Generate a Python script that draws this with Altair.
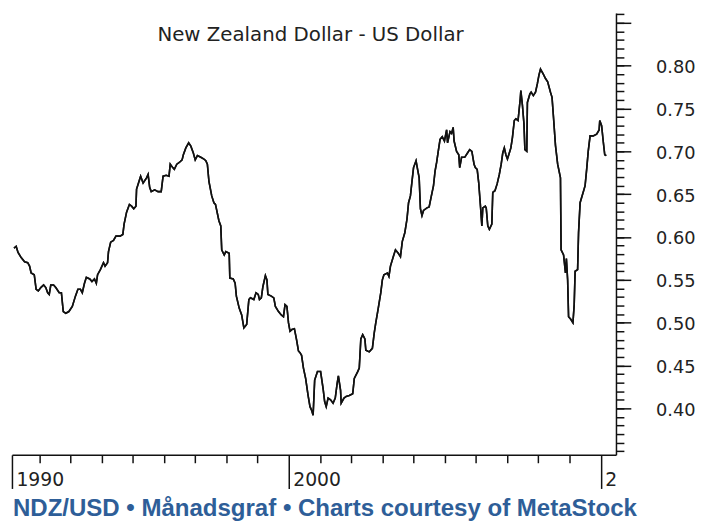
import altair as alt
import pandas as pd

# ---- data ----
years = [
    1991.19, 1991.26, 1991.32, 1991.42, 1991.53, 1991.63, 1991.69, 1991.74, 1991.84, 1991.90,
    1991.97, 1992.05, 1992.14, 1992.21, 1992.27, 1992.32, 1992.37, 1992.46, 1992.53, 1992.64,
    1992.71, 1992.77, 1992.85, 1992.95, 1993.06, 1993.16, 1993.24, 1993.32, 1993.38, 1993.45,
    1993.51, 1993.62, 1993.69, 1993.77, 1993.83, 1993.87, 1993.96, 1994.06, 1994.11, 1994.19,
    1994.22, 1994.29, 1994.38, 1994.46, 1994.59, 1994.68, 1994.72, 1994.80, 1994.89, 1994.96,
    1995.03, 1995.10, 1995.12, 1995.20, 1995.25, 1995.33, 1995.44, 1995.49, 1995.54, 1995.59,
    1995.70, 1995.81, 1995.91, 1995.97, 1996.07, 1996.16, 1996.20, 1996.28, 1996.33, 1996.41,
    1996.49, 1996.58, 1996.62, 1996.70, 1996.79, 1996.86, 1996.94, 1997.00, 1997.07, 1997.18,
    1997.28, 1997.34, 1997.39, 1997.44, 1997.53, 1997.60, 1997.65, 1997.76, 1997.82, 1997.85,
    1997.93, 1997.98, 1998.09, 1998.11, 1998.22, 1998.28, 1998.32, 1998.41, 1998.49, 1998.56,
    1998.65, 1998.72, 1998.77, 1998.88, 1998.95, 1999.02, 1999.06, 1999.12, 1999.17, 1999.25,
    1999.30, 1999.33, 1999.44, 1999.52, 1999.57, 1999.67, 1999.76, 1999.83, 1999.88, 1999.94,
    1999.99, 2000.04, 2000.10, 2000.18, 2000.25, 2000.31, 2000.36, 2000.41, 2000.47, 2000.54,
    2000.62, 2000.68, 2000.73, 2000.78, 2000.83, 2000.92, 2001.02, 2001.10, 2001.15, 2001.20,
    2001.26, 2001.34, 2001.42, 2001.49, 2001.55, 2001.59, 2001.66, 2001.68, 2001.77, 2001.84,
    2001.94, 2002.05, 2002.10, 2002.21, 2002.26, 2002.31, 2002.37, 2002.44, 2002.47, 2002.58,
    2002.68, 2002.74, 2002.79, 2002.86, 2002.95, 2003.00, 2003.05, 2003.16, 2003.21, 2003.26,
    2003.35, 2003.42, 2003.51, 2003.58, 2003.64, 2003.72, 2003.79, 2003.84, 2003.90, 2003.95,
    2004.00, 2004.08, 2004.14, 2004.18, 2004.22, 2004.27, 2004.32, 2004.43, 2004.50, 2004.56,
    2004.64, 2004.69, 2004.74, 2004.80, 2004.85, 2004.92, 2004.99, 2005.06, 2005.09, 2005.17,
    2005.22, 2005.27, 2005.30, 2005.38, 2005.45, 2005.48, 2005.54, 2005.64, 2005.73, 2005.80,
    2005.87, 2005.94, 2005.98, 2006.04, 2006.09, 2006.15, 2006.19, 2006.22, 2006.30, 2006.33,
    2006.38, 2006.43, 2006.51, 2006.54, 2006.61, 2006.68, 2006.75, 2006.81, 2006.86, 2006.91,
    2006.96, 2007.01, 2007.07, 2007.12, 2007.17, 2007.23, 2007.28, 2007.35, 2007.42, 2007.44,
    2007.49, 2007.54, 2007.57, 2007.63, 2007.65, 2007.73, 2007.77, 2007.84, 2007.91, 2007.97,
    2008.02, 2008.07, 2008.16, 2008.23, 2008.30, 2008.39, 2008.44, 2008.49, 2008.55, 2008.62,
    2008.71, 2008.73, 2008.81, 2008.87, 2008.90, 2008.94, 2008.97, 2009.04, 2009.11, 2009.15,
    2009.18, 2009.26, 2009.29, 2009.34, 2009.42, 2009.50, 2009.55, 2009.60, 2009.66, 2009.76,
    2009.87, 2009.95, 2009.97, 2010.03, 2010.08, 2010.13, 2010.18,
]
rates = [
    0.587, 0.589, 0.582, 0.576, 0.571, 0.570, 0.566, 0.558, 0.556, 0.539,
    0.537, 0.541, 0.544, 0.541, 0.535, 0.533, 0.544, 0.544, 0.541, 0.535,
    0.535, 0.513, 0.511, 0.513, 0.519, 0.531, 0.539, 0.539, 0.535, 0.546,
    0.553, 0.551, 0.548, 0.551, 0.546, 0.556, 0.562, 0.570, 0.566, 0.570,
    0.583, 0.594, 0.596, 0.601, 0.601, 0.603, 0.615, 0.629, 0.638, 0.636,
    0.633, 0.636, 0.656, 0.665, 0.671, 0.663, 0.669, 0.673, 0.658, 0.653,
    0.655, 0.653, 0.653, 0.671, 0.672, 0.671, 0.685, 0.681, 0.679, 0.685,
    0.687, 0.690, 0.696, 0.704, 0.710, 0.706, 0.698, 0.690, 0.695, 0.693,
    0.691, 0.689, 0.685, 0.665, 0.648, 0.640, 0.638, 0.619, 0.613, 0.585,
    0.579, 0.583, 0.581, 0.552, 0.551, 0.546, 0.531, 0.517, 0.509, 0.494,
    0.498, 0.527, 0.529, 0.527, 0.535, 0.533, 0.527, 0.529, 0.542, 0.555,
    0.550, 0.533, 0.531, 0.529, 0.519, 0.513, 0.509, 0.507, 0.521, 0.519,
    0.500, 0.490, 0.492, 0.493, 0.480, 0.467, 0.465, 0.462, 0.447, 0.435,
    0.415, 0.402, 0.398, 0.392, 0.433, 0.443, 0.443, 0.423, 0.408, 0.402,
    0.412, 0.410, 0.406, 0.412, 0.429, 0.438, 0.421, 0.406, 0.412, 0.414,
    0.415, 0.417, 0.435, 0.443, 0.447, 0.481, 0.486, 0.481, 0.468, 0.466,
    0.470, 0.488, 0.500, 0.515, 0.535, 0.550, 0.556, 0.558, 0.554, 0.566,
    0.577, 0.585, 0.581, 0.577, 0.595, 0.605, 0.621, 0.640, 0.648, 0.665,
    0.681, 0.689, 0.677, 0.669, 0.633, 0.625, 0.631, 0.634, 0.635, 0.646,
    0.660, 0.677, 0.687, 0.702, 0.714, 0.717, 0.712, 0.725, 0.710, 0.723,
    0.721, 0.728, 0.712, 0.700, 0.696, 0.681, 0.693, 0.693, 0.698, 0.702,
    0.700, 0.685, 0.681, 0.679, 0.663, 0.634, 0.613, 0.634, 0.636, 0.634,
    0.613, 0.609, 0.615, 0.652, 0.654, 0.662, 0.673, 0.685, 0.698, 0.704,
    0.696, 0.691, 0.698, 0.704, 0.716, 0.736, 0.738, 0.736, 0.761, 0.771,
    0.754, 0.732, 0.702, 0.700, 0.757, 0.767, 0.769, 0.765, 0.769, 0.779,
    0.789, 0.796, 0.790, 0.785, 0.781, 0.769, 0.763, 0.738, 0.707, 0.685,
    0.669, 0.585, 0.579, 0.558, 0.575, 0.550, 0.507, 0.504, 0.500, 0.521,
    0.560, 0.562, 0.605, 0.640, 0.650, 0.660, 0.679, 0.700, 0.718, 0.718,
    0.720, 0.725, 0.736, 0.730, 0.712, 0.696, 0.695,
]

title_text = "New Zealand Dollar - US Dollar"
footer_text = "NDZ/USD \u2022 M\u00e5nadsgraf \u2022 Charts courtesy of MetaStock"

x_domain = [1991.125, 2010.49]
y_domain = [0.3458, 0.8615]

x_major_ticks = [1991.125, 2000, 2010]
x_major_labels = ["1990", "2000", "2"]
x_minor_ticks = [y for y in range(1992, 2010) if y != 2000]

y_major_ticks = [0.40, 0.45, 0.50, 0.55, 0.60, 0.65, 0.70, 0.75, 0.80, 0.85]
y_major_labels = ["0.40", "0.45", "0.50", "0.55", "0.60", "0.65", "0.70", "0.75", "0.80", ""]
y_minor_ticks = [round(0.35 + 0.01 * i, 2) for i in range(52)]

df = pd.DataFrame({"year": years, "rate": rates})

# label expressions built from the label arrays
def label_expr(ticks, labels):
    expr = "''"
    for t, l in reversed(list(zip(ticks, labels))):
        expr = f"abs(datum.value - {t}) < 0.001 ? '{l}' : ({expr})"
    return expr

W, H = 611, 447
AX = "#111111"

x_scale = alt.Scale(domain=x_domain, nice=False, zero=False)
y_scale = alt.Scale(domain=y_domain, nice=False, zero=False)

line_minor = alt.Chart(df).mark_line(color="#111111", strokeWidth=1.6).encode(
    x=alt.X("year:Q", scale=x_scale,
            axis=alt.Axis(orient="bottom", values=x_minor_ticks, tickSize=8, labels=False,
                          domain=True, domainColor=AX, domainWidth=1.5, tickColor=AX,
                          tickWidth=1.5, grid=False, title=None)),
    y=alt.Y("rate:Q", scale=y_scale,
            axis=alt.Axis(orient="right", values=y_minor_ticks, tickSize=8, labels=False,
                          domain=True, domainColor=AX, domainWidth=1.5, tickColor=AX,
                          tickWidth=1.5, grid=False, title=None)),
)

line_major = alt.Chart(df).mark_line(color="#111111", strokeWidth=1.6).encode(
    x=alt.X("year:Q", scale=x_scale,
            axis=alt.Axis(orient="bottom", values=x_major_ticks, tickSize=34,
                          labelExpr=label_expr(x_major_ticks, x_major_labels),
                          labelAlign="left", labelBaseline="alphabetic", labelPadding=-3,
                          labelOffset=4, labelFont="DejaVu Sans", labelFontSize=19,
                          labelColor="#222222", labelFlush=False, labelOverlap=False,
                          domain=False, tickColor=AX, tickWidth=1.5, grid=False, title=None)),
    y=alt.Y("rate:Q", scale=y_scale,
            axis=alt.Axis(orient="right", values=y_major_ticks, tickSize=15,
                          labelExpr=label_expr(y_major_ticks, y_major_labels),
                          labelAlign="left", labelBaseline="middle", labelPadding=25,
                          labelOffset=2, labelFont="DejaVu Sans", labelFontSize=18,
                          labelColor="#222222", labelFlush=False, labelOverlap=False,
                          domain=False, tickColor=AX, tickWidth=1.5, grid=False, title=None)),
)

title_layer = alt.Chart(pd.DataFrame({"t": [title_text]})).mark_text(
    font="DejaVu Sans", fontSize=20, color="#222222", align="center", baseline="alphabetic"
).encode(text="t:N", x=alt.value(302), y=alt.value(28))

footer_layer = alt.Chart(pd.DataFrame({"t": [footer_text]})).mark_text(
    font="Liberation Sans", fontSize=24.3, fontWeight="bold", color="#2e5e98",
    align="left", baseline="alphabetic"
).encode(text="t:N", x=alt.value(1), y=alt.value(509))

chart = alt.layer(line_minor, line_major, title_layer, footer_layer).resolve_scale(
    x="shared", y="shared"
).resolve_axis(
    x="independent", y="independent"
).properties(
    width=W, height=H,
    autosize=alt.AutoSizeParams(type="none"),
    padding={"left": 4, "top": 2, "right": 86, "bottom": 69},
    background="white",
).configure_view(stroke=None)

chart.save("out.html", embed_options={"renderer": "svg", "actions": False})
